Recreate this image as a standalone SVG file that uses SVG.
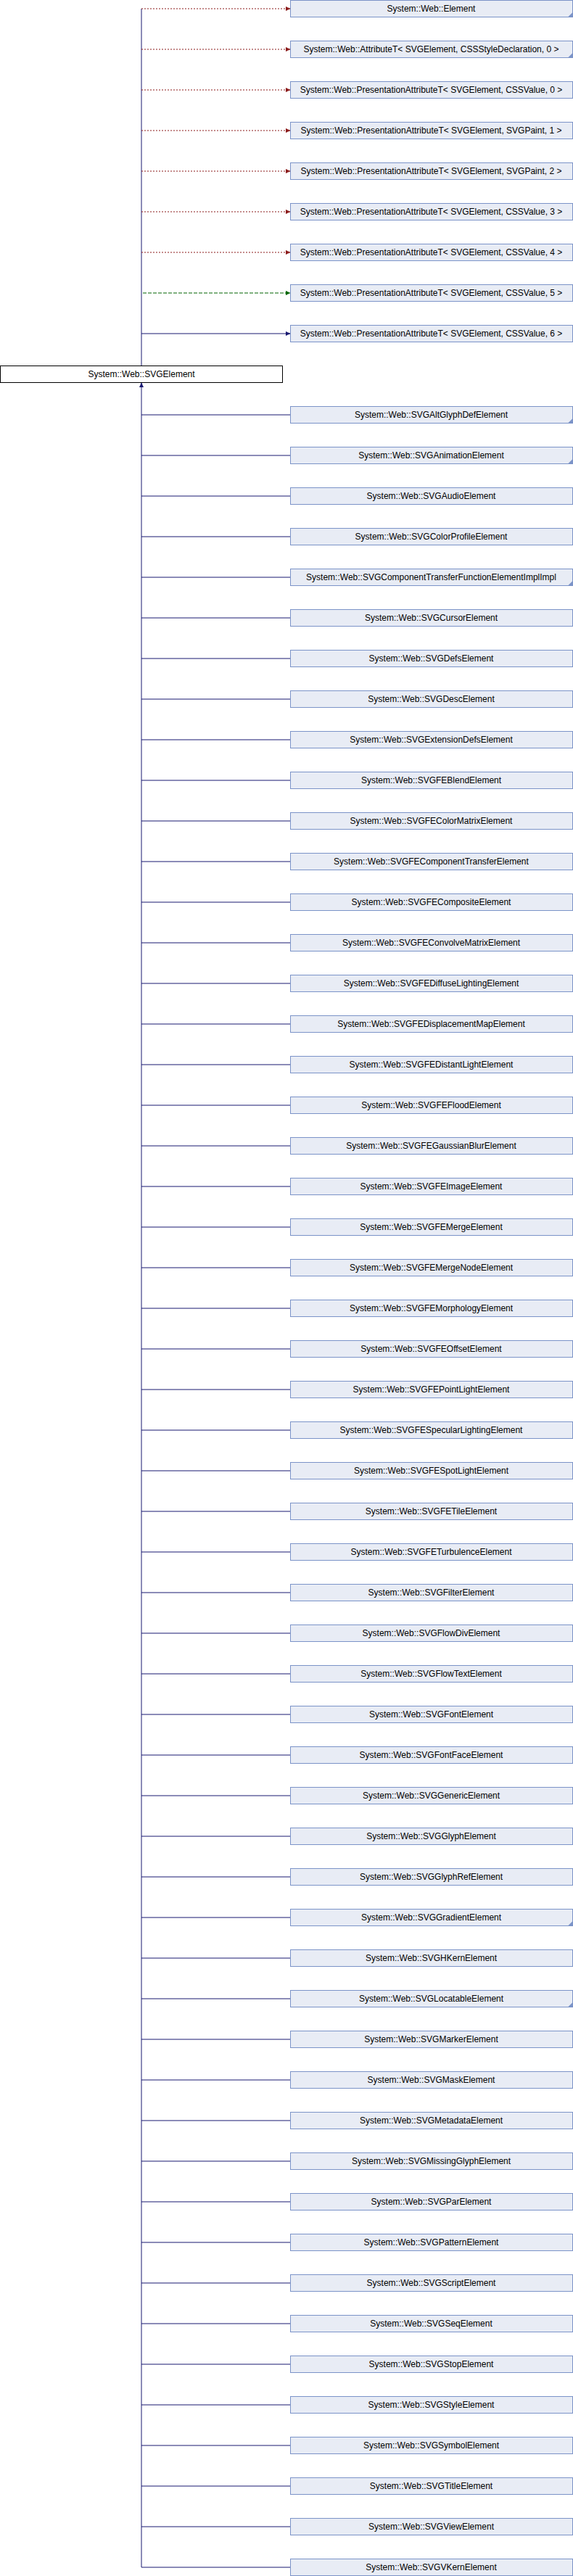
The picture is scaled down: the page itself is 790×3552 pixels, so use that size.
<svg xmlns="http://www.w3.org/2000/svg" width="790" height="3552" viewBox="0 0 790 3552">
<style>
.n rect{fill:#E8ECF5;stroke:#7B93C8;stroke-width:1}
.n text,.c text{font-family:"Liberation Sans",Arial,sans-serif;font-size:12px;fill:#000;text-anchor:middle}
.c rect{fill:#FFFFFF;stroke:#000000;stroke-width:1}
.f{fill:#7B93C8}
.e{fill:none;stroke-width:1}
.pub{stroke:#191970}
.pri{stroke:#8B1A1A;stroke-dasharray:2,2}
.pro{stroke:#006400;stroke-dasharray:5,2}
</style>
<defs>
<marker id="aR" markerUnits="userSpaceOnUse" markerWidth="7" markerHeight="6" refX="6" refY="3" orient="auto"><path d="M0,0.3 L6,3 L0,5.7 z" fill="#8B1A1A" stroke="#8B1A1A" stroke-width="0.5"/></marker>
<marker id="aG" markerUnits="userSpaceOnUse" markerWidth="7" markerHeight="6" refX="6" refY="3" orient="auto"><path d="M0,0.3 L6,3 L0,5.7 z" fill="#006400" stroke="#006400" stroke-width="0.5"/></marker>
<marker id="aB" markerUnits="userSpaceOnUse" markerWidth="7" markerHeight="6" refX="6" refY="3" orient="auto"><path d="M0,0.3 L6,3 L0,5.7 z" fill="#191970" stroke="#191970" stroke-width="0.5"/></marker>
</defs>
<rect x="0" y="0" width="790" height="3552" fill="#FFFFFF"/>
<g id="connectors">
<path class="e pub" d="M195,12 V504.5"/>
<path class="e pri" d="M195,12 H400" marker-end="url(#aR)"/>
<path class="e pri" d="M195,68 H400" marker-end="url(#aR)"/>
<path class="e pri" d="M195,124 H400" marker-end="url(#aR)"/>
<path class="e pri" d="M195,180 H400" marker-end="url(#aR)"/>
<path class="e pri" d="M195,236 H400" marker-end="url(#aR)"/>
<path class="e pri" d="M195,292 H400" marker-end="url(#aR)"/>
<path class="e pri" d="M195,348 H400" marker-end="url(#aR)"/>
<path class="e pro" d="M197,404 H400" marker-end="url(#aG)"/>
<path class="e pub" d="M195,460 H400" marker-end="url(#aB)"/>
<path class="e pub" d="M195,3540 V528" marker-end="url(#aB)"/>
<path class="e pub" d="M195,572 H400 M195,628 H400 M195,684 H400 M195,740 H400 M195,796 H400 M195,852 H400 M195,908 H400 M195,964 H400 M195,1020 H400 M195,1076 H400 M195,1132 H400 M195,1188 H400 M195,1244 H400 M195,1300 H400 M195,1356 H400 M195,1412 H400 M195,1468 H400 M195,1524 H400 M195,1580 H400 M195,1636 H400 M195,1692 H400 M195,1748 H400 M195,1804 H400 M195,1860 H400 M195,1916 H400 M195,1972 H400 M195,2028 H400 M195,2084 H400 M195,2140 H400 M195,2196 H400 M195,2252 H400 M195,2308 H400 M195,2364 H400 M195,2420 H400 M195,2476 H400 M195,2532 H400 M195,2588 H400 M195,2644 H400 M195,2700 H400 M195,2756 H400 M195,2812 H400 M195,2868 H400 M195,2924 H400 M195,2980 H400 M195,3036 H400 M195,3092 H400 M195,3148 H400 M195,3204 H400 M195,3260 H400 M195,3316 H400 M195,3372 H400 M195,3428 H400 M195,3484 H400 M195,3540 H400"/>
</g>
<g id="node_Element" class="n" transform="translate(400,0)"><rect x="0.5" y="0.5" width="389" height="23"/><polygon class="f" points="389.5,17 389.5,23.5 383,23.5"/><text x="194.5" y="16">System::Web::Element</text></g>
<g id="node_AttributeT" class="n" transform="translate(400,56)"><rect x="0.5" y="0.5" width="389" height="23"/><polygon class="f" points="389.5,17 389.5,23.5 383,23.5"/><text x="194.5" y="16">System::Web::AttributeT&lt; SVGElement, CSSStyleDeclaration, 0 &gt;</text></g>
<g id="node_PA_CSSValue_0" class="n" transform="translate(400,112)"><rect x="0.5" y="0.5" width="389" height="23"/><text x="194.5" y="16">System::Web::PresentationAttributeT&lt; SVGElement, CSSValue, 0 &gt;</text></g>
<g id="node_PA_SVGPaint_1" class="n" transform="translate(400,168)"><rect x="0.5" y="0.5" width="389" height="23"/><text x="194.5" y="16">System::Web::PresentationAttributeT&lt; SVGElement, SVGPaint, 1 &gt;</text></g>
<g id="node_PA_SVGPaint_2" class="n" transform="translate(400,224)"><rect x="0.5" y="0.5" width="389" height="23"/><text x="194.5" y="16">System::Web::PresentationAttributeT&lt; SVGElement, SVGPaint, 2 &gt;</text></g>
<g id="node_PA_CSSValue_3" class="n" transform="translate(400,280)"><rect x="0.5" y="0.5" width="389" height="23"/><text x="194.5" y="16">System::Web::PresentationAttributeT&lt; SVGElement, CSSValue, 3 &gt;</text></g>
<g id="node_PA_CSSValue_4" class="n" transform="translate(400,336)"><rect x="0.5" y="0.5" width="389" height="23"/><text x="194.5" y="16">System::Web::PresentationAttributeT&lt; SVGElement, CSSValue, 4 &gt;</text></g>
<g id="node_PA_CSSValue_5" class="n" transform="translate(400,392)"><rect x="0.5" y="0.5" width="389" height="23"/><text x="194.5" y="16">System::Web::PresentationAttributeT&lt; SVGElement, CSSValue, 5 &gt;</text></g>
<g id="node_PA_CSSValue_6" class="n" transform="translate(400,448)"><rect x="0.5" y="0.5" width="389" height="23"/><text x="194.5" y="16">System::Web::PresentationAttributeT&lt; SVGElement, CSSValue, 6 &gt;</text></g>
<g id="node_SVGElement" class="c" transform="translate(0,504)"><rect x="0.5" y="0.5" width="389" height="23"/><text x="195" y="16">System::Web::SVGElement</text></g>
<g id="node_SVGAltGlyphDefElement" class="n" transform="translate(400,560)"><rect x="0.5" y="0.5" width="389" height="23"/><polygon class="f" points="389.5,17 389.5,23.5 383,23.5"/><text x="194.5" y="16">System::Web::SVGAltGlyphDefElement</text></g>
<g id="node_SVGAnimationElement" class="n" transform="translate(400,616)"><rect x="0.5" y="0.5" width="389" height="23"/><polygon class="f" points="389.5,17 389.5,23.5 383,23.5"/><text x="194.5" y="16">System::Web::SVGAnimationElement</text></g>
<g id="node_SVGAudioElement" class="n" transform="translate(400,672)"><rect x="0.5" y="0.5" width="389" height="23"/><text x="194.5" y="16">System::Web::SVGAudioElement</text></g>
<g id="node_SVGColorProfileElement" class="n" transform="translate(400,728)"><rect x="0.5" y="0.5" width="389" height="23"/><text x="194.5" y="16">System::Web::SVGColorProfileElement</text></g>
<g id="node_SVGComponentTransferFunctionElementImplImpl" class="n" transform="translate(400,784)"><rect x="0.5" y="0.5" width="389" height="23"/><polygon class="f" points="389.5,17 389.5,23.5 383,23.5"/><text x="194.5" y="16">System::Web::SVGComponentTransferFunctionElementImplImpl</text></g>
<g id="node_SVGCursorElement" class="n" transform="translate(400,840)"><rect x="0.5" y="0.5" width="389" height="23"/><text x="194.5" y="16">System::Web::SVGCursorElement</text></g>
<g id="node_SVGDefsElement" class="n" transform="translate(400,896)"><rect x="0.5" y="0.5" width="389" height="23"/><text x="194.5" y="16">System::Web::SVGDefsElement</text></g>
<g id="node_SVGDescElement" class="n" transform="translate(400,952)"><rect x="0.5" y="0.5" width="389" height="23"/><text x="194.5" y="16">System::Web::SVGDescElement</text></g>
<g id="node_SVGExtensionDefsElement" class="n" transform="translate(400,1008)"><rect x="0.5" y="0.5" width="389" height="23"/><text x="194.5" y="16">System::Web::SVGExtensionDefsElement</text></g>
<g id="node_SVGFEBlendElement" class="n" transform="translate(400,1064)"><rect x="0.5" y="0.5" width="389" height="23"/><text x="194.5" y="16">System::Web::SVGFEBlendElement</text></g>
<g id="node_SVGFEColorMatrixElement" class="n" transform="translate(400,1120)"><rect x="0.5" y="0.5" width="389" height="23"/><text x="194.5" y="16">System::Web::SVGFEColorMatrixElement</text></g>
<g id="node_SVGFEComponentTransferElement" class="n" transform="translate(400,1176)"><rect x="0.5" y="0.5" width="389" height="23"/><text x="194.5" y="16">System::Web::SVGFEComponentTransferElement</text></g>
<g id="node_SVGFECompositeElement" class="n" transform="translate(400,1232)"><rect x="0.5" y="0.5" width="389" height="23"/><text x="194.5" y="16">System::Web::SVGFECompositeElement</text></g>
<g id="node_SVGFEConvolveMatrixElement" class="n" transform="translate(400,1288)"><rect x="0.5" y="0.5" width="389" height="23"/><text x="194.5" y="16">System::Web::SVGFEConvolveMatrixElement</text></g>
<g id="node_SVGFEDiffuseLightingElement" class="n" transform="translate(400,1344)"><rect x="0.5" y="0.5" width="389" height="23"/><text x="194.5" y="16">System::Web::SVGFEDiffuseLightingElement</text></g>
<g id="node_SVGFEDisplacementMapElement" class="n" transform="translate(400,1400)"><rect x="0.5" y="0.5" width="389" height="23"/><text x="194.5" y="16">System::Web::SVGFEDisplacementMapElement</text></g>
<g id="node_SVGFEDistantLightElement" class="n" transform="translate(400,1456)"><rect x="0.5" y="0.5" width="389" height="23"/><text x="194.5" y="16">System::Web::SVGFEDistantLightElement</text></g>
<g id="node_SVGFEFloodElement" class="n" transform="translate(400,1512)"><rect x="0.5" y="0.5" width="389" height="23"/><text x="194.5" y="16">System::Web::SVGFEFloodElement</text></g>
<g id="node_SVGFEGaussianBlurElement" class="n" transform="translate(400,1568)"><rect x="0.5" y="0.5" width="389" height="23"/><text x="194.5" y="16">System::Web::SVGFEGaussianBlurElement</text></g>
<g id="node_SVGFEImageElement" class="n" transform="translate(400,1624)"><rect x="0.5" y="0.5" width="389" height="23"/><text x="194.5" y="16">System::Web::SVGFEImageElement</text></g>
<g id="node_SVGFEMergeElement" class="n" transform="translate(400,1680)"><rect x="0.5" y="0.5" width="389" height="23"/><text x="194.5" y="16">System::Web::SVGFEMergeElement</text></g>
<g id="node_SVGFEMergeNodeElement" class="n" transform="translate(400,1736)"><rect x="0.5" y="0.5" width="389" height="23"/><text x="194.5" y="16">System::Web::SVGFEMergeNodeElement</text></g>
<g id="node_SVGFEMorphologyElement" class="n" transform="translate(400,1792)"><rect x="0.5" y="0.5" width="389" height="23"/><text x="194.5" y="16">System::Web::SVGFEMorphologyElement</text></g>
<g id="node_SVGFEOffsetElement" class="n" transform="translate(400,1848)"><rect x="0.5" y="0.5" width="389" height="23"/><text x="194.5" y="16">System::Web::SVGFEOffsetElement</text></g>
<g id="node_SVGFEPointLightElement" class="n" transform="translate(400,1904)"><rect x="0.5" y="0.5" width="389" height="23"/><text x="194.5" y="16">System::Web::SVGFEPointLightElement</text></g>
<g id="node_SVGFESpecularLightingElement" class="n" transform="translate(400,1960)"><rect x="0.5" y="0.5" width="389" height="23"/><text x="194.5" y="16">System::Web::SVGFESpecularLightingElement</text></g>
<g id="node_SVGFESpotLightElement" class="n" transform="translate(400,2016)"><rect x="0.5" y="0.5" width="389" height="23"/><text x="194.5" y="16">System::Web::SVGFESpotLightElement</text></g>
<g id="node_SVGFETileElement" class="n" transform="translate(400,2072)"><rect x="0.5" y="0.5" width="389" height="23"/><text x="194.5" y="16">System::Web::SVGFETileElement</text></g>
<g id="node_SVGFETurbulenceElement" class="n" transform="translate(400,2128)"><rect x="0.5" y="0.5" width="389" height="23"/><text x="194.5" y="16">System::Web::SVGFETurbulenceElement</text></g>
<g id="node_SVGFilterElement" class="n" transform="translate(400,2184)"><rect x="0.5" y="0.5" width="389" height="23"/><text x="194.5" y="16">System::Web::SVGFilterElement</text></g>
<g id="node_SVGFlowDivElement" class="n" transform="translate(400,2240)"><rect x="0.5" y="0.5" width="389" height="23"/><text x="194.5" y="16">System::Web::SVGFlowDivElement</text></g>
<g id="node_SVGFlowTextElement" class="n" transform="translate(400,2296)"><rect x="0.5" y="0.5" width="389" height="23"/><text x="194.5" y="16">System::Web::SVGFlowTextElement</text></g>
<g id="node_SVGFontElement" class="n" transform="translate(400,2352)"><rect x="0.5" y="0.5" width="389" height="23"/><text x="194.5" y="16">System::Web::SVGFontElement</text></g>
<g id="node_SVGFontFaceElement" class="n" transform="translate(400,2408)"><rect x="0.5" y="0.5" width="389" height="23"/><text x="194.5" y="16">System::Web::SVGFontFaceElement</text></g>
<g id="node_SVGGenericElement" class="n" transform="translate(400,2464)"><rect x="0.5" y="0.5" width="389" height="23"/><text x="194.5" y="16">System::Web::SVGGenericElement</text></g>
<g id="node_SVGGlyphElement" class="n" transform="translate(400,2520)"><rect x="0.5" y="0.5" width="389" height="23"/><text x="194.5" y="16">System::Web::SVGGlyphElement</text></g>
<g id="node_SVGGlyphRefElement" class="n" transform="translate(400,2576)"><rect x="0.5" y="0.5" width="389" height="23"/><text x="194.5" y="16">System::Web::SVGGlyphRefElement</text></g>
<g id="node_SVGGradientElement" class="n" transform="translate(400,2632)"><rect x="0.5" y="0.5" width="389" height="23"/><polygon class="f" points="389.5,17 389.5,23.5 383,23.5"/><text x="194.5" y="16">System::Web::SVGGradientElement</text></g>
<g id="node_SVGHKernElement" class="n" transform="translate(400,2688)"><rect x="0.5" y="0.5" width="389" height="23"/><text x="194.5" y="16">System::Web::SVGHKernElement</text></g>
<g id="node_SVGLocatableElement" class="n" transform="translate(400,2744)"><rect x="0.5" y="0.5" width="389" height="23"/><polygon class="f" points="389.5,17 389.5,23.5 383,23.5"/><text x="194.5" y="16">System::Web::SVGLocatableElement</text></g>
<g id="node_SVGMarkerElement" class="n" transform="translate(400,2800)"><rect x="0.5" y="0.5" width="389" height="23"/><text x="194.5" y="16">System::Web::SVGMarkerElement</text></g>
<g id="node_SVGMaskElement" class="n" transform="translate(400,2856)"><rect x="0.5" y="0.5" width="389" height="23"/><text x="194.5" y="16">System::Web::SVGMaskElement</text></g>
<g id="node_SVGMetadataElement" class="n" transform="translate(400,2912)"><rect x="0.5" y="0.5" width="389" height="23"/><text x="194.5" y="16">System::Web::SVGMetadataElement</text></g>
<g id="node_SVGMissingGlyphElement" class="n" transform="translate(400,2968)"><rect x="0.5" y="0.5" width="389" height="23"/><text x="194.5" y="16">System::Web::SVGMissingGlyphElement</text></g>
<g id="node_SVGParElement" class="n" transform="translate(400,3024)"><rect x="0.5" y="0.5" width="389" height="23"/><text x="194.5" y="16">System::Web::SVGParElement</text></g>
<g id="node_SVGPatternElement" class="n" transform="translate(400,3080)"><rect x="0.5" y="0.5" width="389" height="23"/><text x="194.5" y="16">System::Web::SVGPatternElement</text></g>
<g id="node_SVGScriptElement" class="n" transform="translate(400,3136)"><rect x="0.5" y="0.5" width="389" height="23"/><text x="194.5" y="16">System::Web::SVGScriptElement</text></g>
<g id="node_SVGSeqElement" class="n" transform="translate(400,3192)"><rect x="0.5" y="0.5" width="389" height="23"/><text x="194.5" y="16">System::Web::SVGSeqElement</text></g>
<g id="node_SVGStopElement" class="n" transform="translate(400,3248)"><rect x="0.5" y="0.5" width="389" height="23"/><text x="194.5" y="16">System::Web::SVGStopElement</text></g>
<g id="node_SVGStyleElement" class="n" transform="translate(400,3304)"><rect x="0.5" y="0.5" width="389" height="23"/><text x="194.5" y="16">System::Web::SVGStyleElement</text></g>
<g id="node_SVGSymbolElement" class="n" transform="translate(400,3360)"><rect x="0.5" y="0.5" width="389" height="23"/><text x="194.5" y="16">System::Web::SVGSymbolElement</text></g>
<g id="node_SVGTitleElement" class="n" transform="translate(400,3416)"><rect x="0.5" y="0.5" width="389" height="23"/><text x="194.5" y="16">System::Web::SVGTitleElement</text></g>
<g id="node_SVGViewElement" class="n" transform="translate(400,3472)"><rect x="0.5" y="0.5" width="389" height="23"/><text x="194.5" y="16">System::Web::SVGViewElement</text></g>
<g id="node_SVGVKernElement" class="n" transform="translate(400,3528)"><rect x="0.5" y="0.5" width="389" height="23"/><text x="194.5" y="16">System::Web::SVGVKernElement</text></g>
</svg>
